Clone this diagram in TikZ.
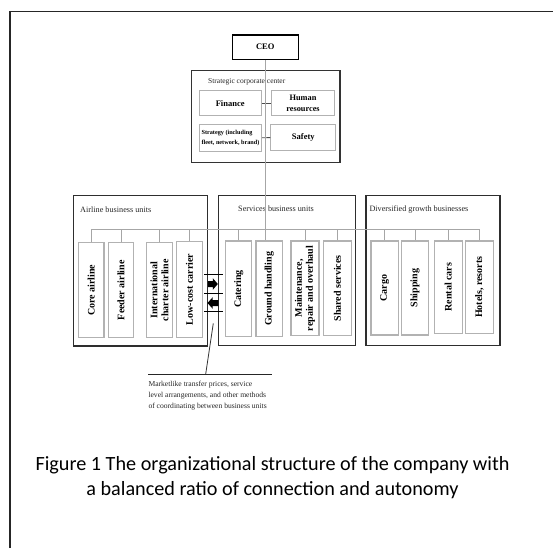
\documentclass[tikz,border=0pt]{standalone}
\usepackage{fontspec}
\setmainfont{Liberation Serif}
\newfontfamily\capfont{Carlito}
\usetikzlibrary{calc}
\begin{document}
\begin{tikzpicture}[x=1pt,y=-1pt,
  ceobox/.style={draw=black, line width=1.3pt, inner sep=0, minimum width=66pt, minimum height=24.3pt, font=\fontsize{8.5}{9}\selectfont\bfseries},
  corpbox/.style={draw=black!80, line width=1.3pt, inner sep=0},
  inbox/.style={draw=gray!60, line width=1pt, inner sep=0, align=center, font=\fontsize{8.5}{11.5}\selectfont\bfseries},
  bigbox/.style={draw=black!82, line width=1.3pt, inner sep=0},
  titletxt/.style={inner sep=0, text=black!85, font=\fontsize{8.2}{9}\selectfont},
  leaf/.style={draw=gray!60, line width=1.3pt, rotate=90, inner sep=0, align=center, font=\fontsize{10}{11}\selectfont\bfseries},
  busline/.style={draw=gray!70, line width=0.8pt},
  conn/.style={draw=black!70, line width=0.8pt},
  gridline/.style={draw=black, line width=1pt},
  blockarrow/.style={fill=black},
]
\path[use as bounding box] (0,0) rectangle (553,548);

% outer frame (top and left edges visible)
\coordinate (fbl) at (10,548);
\coordinate (ftl) at (10,11.5);
\coordinate (ftr) at (553,11.5);
\draw[line width=1.6pt, black!85] (fbl) -- (ftl) -- (ftr);

% CEO and strategic corporate center
\node[ceobox] (ceo) at (265.3,47.2) {CEO};
\node[corpbox, minimum width=148.3pt, minimum height=92pt] (corp) at (265.8,116.7) {};
\node[titletxt, font=\fontsize{7.5}{8}\selectfont, anchor=base west] (corpT) at (208,83.3) {Strategic corporate center};
\node[inbox, minimum width=61.7pt, minimum height=25.3pt] (fin) at (230.2,103.3) {Finance};
\node[inbox, minimum width=62.6pt, minimum height=25.3pt, font=\fontsize{8.3}{11.5}\selectfont\bfseries] (hr) at (303,103.3) {Human\\resources};
\node[inbox, minimum width=62.4pt, minimum height=26pt, align=left, font=\fontsize{6.2}{10}\selectfont\bfseries] (strat) at (230.5,138) {Strategy (including\\fleet, network, brand)};
\node[inbox, minimum width=64.7pt, minimum height=26pt] (safety) at (303.3,137.3) {Safety};
\draw[conn] (fin) -- (hr);
\draw[conn] (strat) -- (safety);

% business unit boxes
\node[bigbox, minimum width=133.8pt, minimum height=150.3pt] (air) at (140.6,270.9) {};
\node[bigbox, minimum width=137.2pt, minimum height=150pt] (serv) at (286.9,270.7) {};
\node[bigbox, minimum width=134pt, minimum height=150pt] (div) at (433,270.7) {};
\node[titletxt, anchor=base west] (airT) at (80,212) {Airline business units};
\node[titletxt, anchor=base west] (servT) at (238,211) {Services business units};
\node[titletxt, anchor=base west] (divT) at (369.3,211) {Diversified growth businesses};

% leaf units
\node[leaf, minimum width=95pt, minimum height=25.7pt] (core) at (91.2,290.2) {Core airline};
\node[leaf, minimum width=95pt, minimum height=24.6pt] (feeder) at (121,290.2) {Feeder airline};
\node[leaf, minimum width=95pt, minimum height=25.6pt] (intl) at (159.5,290.2) {International\\charter airline};
\node[leaf, minimum width=95.6pt, minimum height=25.6pt] (low) at (189.5,289.5) {Low-cost carrier};
\node[leaf, minimum width=95.7pt, minimum height=26pt] (cater) at (238.7,288.9) {Catering};
\node[leaf, minimum width=95.7pt, minimum height=26.7pt] (ground) at (269.3,288.9) {Ground handling};
\node[leaf, minimum width=94.7pt, minimum height=28pt] (maint) at (305,288.4) {Maintenance,\\repair and overhaul};
\node[leaf, minimum width=94.7pt, minimum height=28.4pt] (shared) at (337.5,288.4) {Shared services};
\node[leaf, minimum width=94pt, minimum height=27.3pt] (cargo) at (384.7,288) {Cargo};
\node[leaf, minimum width=94pt, minimum height=26.6pt] (ship) at (415,288) {Shipping};
\node[leaf, minimum width=92.3pt, minimum height=28pt] (rental) at (448.3,287.2) {Rental cars};
\node[leaf, minimum width=92.3pt, minimum height=27.6pt] (hotel) at (479.5,287.2) {Hotels, resorts};

% bus and drops
\coordinate (bus) at (0,229.3);
\draw[busline] (core.east |- bus) -- (hotel.east |- bus);
\foreach \n in {core,feeder,intl,low,cater,maint,shared,cargo,ship,rental,hotel}
  \draw[busline] (\n.east) -- (\n.east |- bus);
\draw[busline] (ceo.south) -- (ceo.south |- ground.east);

% coordination arrows between airline and services units
\coordinate (g1l) at (204,274.3); \coordinate (g1r) at (222.7,274.3);
\coordinate (g2l) at (204,293.3); \coordinate (g2r) at (222.7,293.3);
\coordinate (g3l) at (204,311);   \coordinate (g3r) at (222.7,311);
\draw[gridline] (g1l) -- (g1r);
\draw[gridline] (g2l) -- (g2r);
\draw[gridline] (g3l) -- (g3r);
\coordinate (arR) at (212.8,284);
\coordinate (arL) at (212.7,303);
\fill[blockarrow] ($(arR)+(-4.8,-3)$) -- ($(arR)+(0,-3)$) -- ($(arR)+(0,-5.8)$) -- ($(arR)+(5,0)$)
  -- ($(arR)+(0,5.8)$) -- ($(arR)+(0,3)$) -- ($(arR)+(-4.8,3)$) -- cycle;
\fill[blockarrow] ($(arL)+(5.6,-3)$) -- ($(arL)+(0,-3)$) -- ($(arL)+(0,-5.8)$) -- ($(arL)+(-5.2,0)$)
  -- ($(arL)+(0,5.8)$) -- ($(arL)+(0,3)$) -- ($(arL)+(5.6,3)$) -- cycle;

% callout
\coordinate (cA) at (213.3,323.3);
\coordinate (cB) at (205.7,374);
\coordinate (hlL) at (148.3,374);
\coordinate (hlR) at (271.7,374);
\draw[black!80, line width=0.8pt] (cA) -- (cB);
\draw[black!85, line width=0.9pt] (hlL) -- (hlR);
\node[anchor=north west, align=left, inner sep=0, text=black!85, font=\fontsize{7.6}{11}\selectfont] (note) at (148.3,381) {Marketlike transfer prices, service\\level arrangements, and other methods\\of coordinating between business units};

% caption
\node[anchor=north, align=center, inner sep=0, font=\capfont\fontsize{20.2}{25}\selectfont] (cap) at (272.5,456.3) {Figure 1 The organizational structure of the company with\\a balanced ratio of connection and autonomy};
\end{tikzpicture}
\end{document}
